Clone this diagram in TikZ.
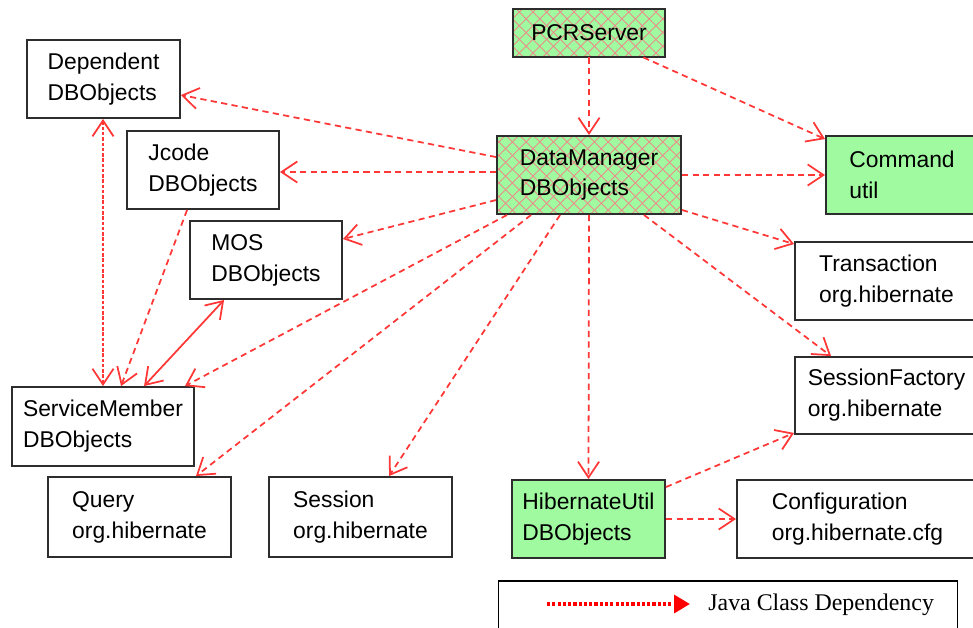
\documentclass[tikz,border=0pt]{standalone}
\usepackage{fontspec}
\setmainfont{Liberation Serif}
\setsansfont{Liberation Sans}
\usetikzlibrary{arrows.meta,calc,patterns.meta}
\definecolor{deplink}{RGB}{255,55,55}
\definecolor{classgreen}{RGB}{160,250,160}
\definecolor{hatchpink}{RGB}{236,140,140}
\definecolor{boxline}{RGB}{45,45,45}
\tikzset{
  cls/.style={draw=boxline,line width=1.1pt,rectangle,align=left,inner sep=0pt,
    font=\sffamily\fontsize{13}{17.6}\selectfont},
  core/.style={cls,fill=classgreen},
  hatched/.style={cls,preaction={fill=classgreen},
    preaction={pattern={Lines[angle=45,distance=5.5pt,line width=0.5pt]},pattern color=hatchpink},
    pattern={Lines[angle=-45,distance=5.5pt,line width=0.5pt]},pattern color=hatchpink},
  dep/.style={draw=deplink,line width=1pt,dash pattern=on 3.5pt off 2.5pt,
    -{Straight Barb[length=9pt,width=12pt]}},
  mutual/.style={draw=deplink,line width=1pt,dash pattern=on 2pt off 1pt,
    {Straight Barb[length=9pt,width=12pt]}-{Straight Barb[length=9pt,width=12pt]}},
  mutualsolid/.style={draw=deplink,line width=1pt,
    {Straight Barb[length=9pt,width=12pt]}-{Straight Barb[length=9pt,width=12pt]}},
  keyline/.style={draw=red,line width=2.3pt,dash pattern=on 1.8pt off 1.2pt,
    -{Triangle[length=9pt,width=10pt]}}
}
\begin{document}
\begin{tikzpicture}[x=0.02cm,y=-0.02cm]
\useasboundingbox (0,0) rectangle (973,627);
% classes
\node[hatched,minimum width=3.04cm,minimum height=0.96cm] (pcr) at (589,33) {PCRServer};
\node[hatched,minimum width=3.68cm,minimum height=1.56cm] (dm) at (589,175) {DataManager\\DBObjects};
\node[core,minimum width=3.04cm,minimum height=1.56cm] (cmd) at (902,175) {Command\\util};
\node[cls,minimum width=3.06cm,minimum height=1.56cm] (dep) at (103.5,79) {Dependent\\DBObjects};
\node[cls,minimum width=3.04cm,minimum height=1.56cm] (jcode) at (203,170) {Jcode\\DBObjects};
\node[cls,minimum width=3.04cm,minimum height=1.56cm] (mos) at (266,260) {MOS\\DBObjects};
\node[cls,minimum width=3.64cm,minimum height=1.58cm] (sm) at (103,426.5) {ServiceMember\\DBObjects};
\node[cls,minimum width=3.66cm,minimum height=1.6cm] (query) at (139.5,517) {Query\\org.hibernate};
\node[cls,minimum width=3.66cm,minimum height=1.6cm] (session) at (360.5,517) {Session\\org.hibernate};
\node[core,minimum width=3.06cm,minimum height=1.56cm] (hutil) at (588.5,519) {HibernateUtil\\DBObjects};
\node[cls,minimum width=4.82cm,minimum height=1.56cm] (config) at (857.5,519) {Configuration\\org.hibernate.cfg};
\node[cls,minimum width=3.66cm,minimum height=1.56cm] (trans) at (886.5,281) {Transaction\\org.hibernate};
\node[cls,minimum width=3.66cm,minimum height=1.54cm] (sf) at (886.5,395.5) {SessionFactory\\org.hibernate};
% dependencies
\draw[dep] (pcr.south) -- (dm.north);
\draw[dep] ($(pcr.south east)+(-22,0)$) -- ($(cmd.north west)+(0,4)$);
\draw[dep] ($(dm.north west)+(0,22)$) -- ($(dep.east)+(0,16)$);
\draw[dep] ($(dm.west |- jcode.east)+(0,2)$) -- ($(jcode.east)+(0,2)$);
\draw[dep] ($(dm.north west)+(0,65)$) -- ($(mos.east)+(0,-21)$);
\draw[dep] ($(dm.south west)+(11,0)$) -- ($(sm.north east)+(-10,0)$);
\draw[dep] ($(dm.south west)+(35,0)$) -- ($(query.north east)+(-36,0)$);
\draw[dep] ($(dm.south west)+(64,0)$) -- ($(session.north west)+(121,0)$);
\draw[dep] (dm.south) -- (hutil.north);
\draw[dep] (dm.east) -- (cmd.west);
\draw[dep] ($(dm.south east)+(0,-5)$) -- ($(trans.north west)+(0,3)$);
\draw[dep] ($(dm.south east)+(-38,0)$) -- ($(sf.north west)+(37,0)$);
\draw[dep] ($(hutil.north east)+(0,8)$) -- ($(sf.south west)+(0,-2)$);
\draw[dep] (hutil.east) -- (config.west);
\draw[dep] ($(jcode.south west)+(61,0)$) -- ($(sm.north west)+(110,0)$);
\draw[mutual] ($(dep.south)+(-0.5,0)$) -- ($(dep.south |- sm.north)+(-0.5,0)$);
\draw[mutualsolid] ($(mos.south west)+(35,0)$) -- ($(sm.north west)+(133,0)$);
% legend
\node[draw=black,line width=1pt,minimum width=9.18cm,minimum height=1.2cm] (legend) at (728,611) {};
\coordinate (keyA) at (547,604);
\coordinate (keyB) at (690,604);
\draw[keyline] (keyA) -- (keyB);
\node[anchor=west,inner sep=0pt,font=\fontsize{13.6}{16}\selectfont] (keytext) at (708,605) {Java Class Dependency};
\end{tikzpicture}
\end{document}
